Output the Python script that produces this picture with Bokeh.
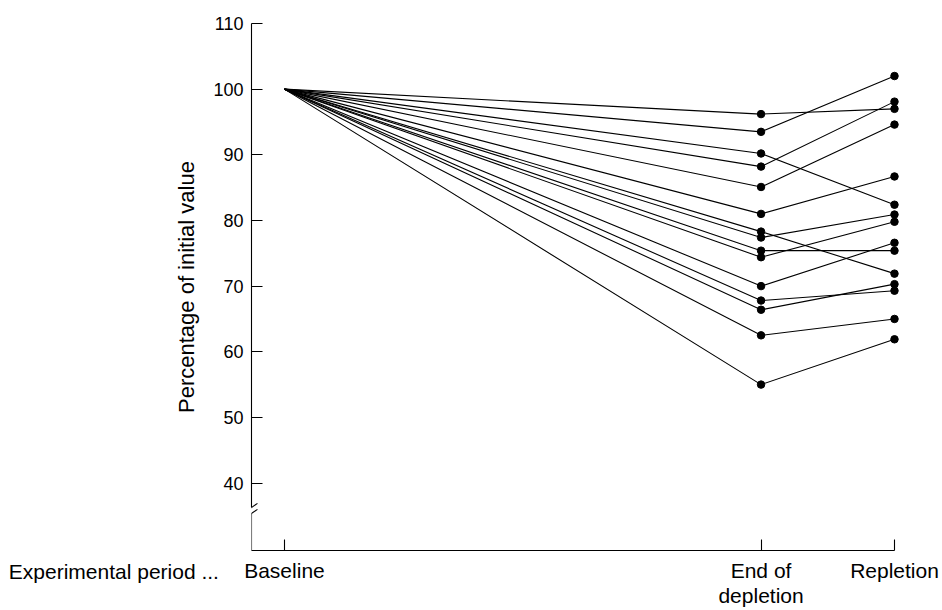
from bokeh.plotting import figure
from bokeh.models import FixedTicker, Label, Arrow, Range1d, ColumnDataSource
from bokeh.embed import file_html
from bokeh.resources import INLINE

# ---- data ----
period_labels = ["Baseline", "End of\ndepletion", "Repletion"]
period_x = [0, 25, 32]
y_ticks = [40, 50, 60, 70, 80, 90, 100, 110]
baseline = [100.0] * 15
end_of_depletion = [96.2, 93.5, 90.2, 88.2, 85.1, 81.0, 78.3, 77.4, 75.4, 74.4, 70.0, 67.8, 66.4, 62.5, 55.0]
repletion = [97.0, 102.0, 82.4, 98.1, 94.6, 86.7, 71.9, 80.9, 75.4, 79.8, 76.6, 69.3, 70.3, 65.0, 61.9]

X0, X1 = -1.73, 32.42
Y0, Y1 = 29.73, 110

p = figure(width=940, height=610, output_backend="svg", toolbar_location=None,
           x_range=Range1d(X0, X1), y_range=Range1d(Y0, Y1),
           min_border_left=251, min_border_right=38, min_border_top=22, min_border_bottom=60)
p.outline_line_color = None
p.grid.visible = False
p.background_fill_color = "white"
p.border_fill_color = "white"

xs = [list(period_x) for _ in baseline]
ys = [[b, d, r] for b, d, r in zip(baseline, end_of_depletion, repletion)]
p.multi_line(xs=xs, ys=ys, line_color="black", line_width=1.1)

pts = ColumnDataSource(dict(
    x=[period_x[1]] * len(end_of_depletion) + [period_x[2]] * len(repletion),
    y=end_of_depletion + repletion))
p.scatter(x="x", y="y", source=pts, size=7.5, color="black")

FONT = "Liberation Sans"

# x axis
xa = p.xaxis[0]
xa.ticker = FixedTicker(ticks=period_x)
xa.major_label_overrides = {x: lab for x, lab in zip(period_x, period_labels)}
xa.bounds = (X0, period_x[2])
xa.major_tick_in = 11
xa.major_tick_out = 0
xa.minor_tick_line_color = None
xa.major_label_text_font = FONT
xa.major_label_text_font_size = "21px"
xa.major_label_text_line_height = 1.1
xa.major_label_text_color = "black"
xa.major_label_standoff = 8
xa.axis_line_width = 1.1
xa.major_tick_line_width = 1.1

# y axis
ya = p.yaxis[0]
ya.ticker = FixedTicker(ticks=y_ticks)
ya.bounds = (36.29, Y1)
ya.major_tick_in = 11
ya.major_tick_out = 0
ya.minor_tick_line_color = None
ya.major_label_text_font = FONT
ya.major_label_text_font_size = "18px"
ya.major_label_text_color = "black"
ya.major_label_standoff = 8
ya.axis_line_width = 1.1
ya.major_tick_line_width = 1.1
ya.axis_label = "Percentage of initial value"
ya.axis_label_text_font = FONT
ya.axis_label_text_font_size = "22px"
ya.axis_label_text_font_style = "normal"
ya.axis_label_text_color = "black"
ya.axis_label_standoff = 11

# axis break: lower stub and two slashes
p.add_layout(Arrow(end=None, x_start=X0, y_start=Y0, x_end=X0, y_end=35.38,
                   line_color="black", line_width=1.1))
p.add_layout(Arrow(end=None, x_start=-2.256, y_start=34.33, x_end=-1.417, y_end=36.0,
                   line_color="black", line_width=1.1))
p.add_layout(Arrow(end=None, x_start=-2.256, y_start=35.24, x_end=-1.417, y_end=36.91,
                   line_color="black", line_width=1.1))

# row caption, placed in a side panel so the frame does not clip it
p.add_layout(Label(x=-14.46, y=26.52, text="Experimental period ...",
                   text_font=FONT, text_font_size="21px", text_color="black",
                   text_align="left", text_baseline="alphabetic"), "above")

open("out.html", "w").write(file_html(p, INLINE))
